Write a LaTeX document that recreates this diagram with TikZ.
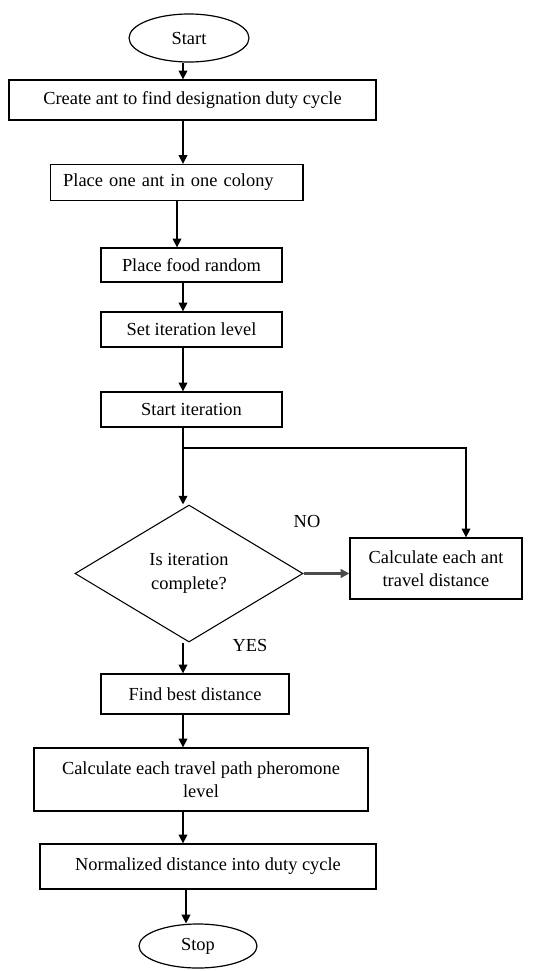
\documentclass[tikz,border=0pt]{standalone}
\usepackage{fontspec}
\setmainfont{Liberation Serif}
\usetikzlibrary{shapes.geometric,arrows.meta}
\newcommand{\pxu}{0.75pt}
\tikzset{
  txt/.style={font=\fontsize{13.8}{17.5}\selectfont},
  box/.style={txt, draw, rectangle, line width=1pt, inner sep=0pt, align=center},
  term/.style={txt, draw, ellipse, line width=0.9pt, inner sep=0pt},
  decide/.style={txt, draw, diamond, line width=0.8pt, inner sep=0pt, align=center},
  arr/.style={-{Triangle[length=6.5pt,width=6.5pt]}, line width=1pt},
}
\begin{document}
\begin{tikzpicture}[x=0.75pt, y=-0.75pt]
    \useasboundingbox (0,0) rectangle (547,971);
    \coordinate (col) at (183,0);
    \node[term, minimum width=120*\pxu, minimum height=48*\pxu] (start) at (189,38) {Start};
    \node[box, minimum width=367*\pxu, minimum height=40*\pxu] (create) at (192.5,100) {Create ant to find designation duty cycle};
    \node[box, minimum height=36*\pxu, text width=170pt, inner xsep=13*\pxu, align=left] (placeant) at (176.5,182.5) {Place one ant in one colony};
    \node[box, minimum width=181*\pxu, minimum height=34*\pxu] (food) at (191.5,265) {Place food random};
    \node[box, minimum width=181*\pxu, minimum height=35*\pxu] (setlevel) at (191.5,329.5) {Set iteration level};
    \node[box, minimum width=181*\pxu, minimum height=35*\pxu] (startit) at (191.5,409.5) {Start iteration};
    \coordinate (split) at (183,448);
    \coordinate (loop) at (466,448);
    \node[decide, minimum width=228*\pxu, minimum height=137*\pxu] (dec) at (189,573.5) {Is iteration\\complete?};
    \node[box, minimum width=172*\pxu, minimum height=61*\pxu] (calc) at (436,568.5) {Calculate each ant\\travel distance};
    \node[txt] (no) at (307,521) {NO};
    \node[txt] (yes) at (250,645) {YES};
    \node[box, minimum width=188*\pxu, minimum height=40*\pxu] (find) at (195,694) {Find best distance};
    \node[box, minimum width=334*\pxu, minimum height=63*\pxu] (phero) at (201,779.5) {Calculate each travel path pheromone\\level};
    \node[box, minimum width=336*\pxu, minimum height=45*\pxu] (norm) at (208,866.5) {Normalized distance into duty cycle};
    \node[term, minimum width=118*\pxu, minimum height=44*\pxu] (stop) at (198,946) {Stop};

    \draw[arr] (start.south -| col) -- (create.north -| col);
    \draw[arr] (create.south -| col) -- (placeant.north -| col);
    \draw[arr] ([xshift=-6*\pxu]placeant.south -| col) -- ([xshift=-6*\pxu]food.north -| col);
    \draw[arr] (food.south -| col) -- (setlevel.north -| col);
    \draw[arr] (setlevel.south -| col) -- (startit.north -| col);
    \draw[line width=1pt] (startit.south -| col) -- (split);
    \draw[arr] (split) -- (dec.north -| col);
    \draw[arr] (split) -- (loop) -- (calc.north -| loop);
    \draw[-{Triangle[length=6.5pt,width=6.5pt]}, line width=1.8pt, black!70] (dec.east) -- (dec.east -| calc.west);
    \draw[arr] (dec.south -| col) -- (find.north -| col);
    \draw[arr] (find.south -| col) -- (phero.north -| col);
    \draw[arr] (phero.south -| col) -- (norm.north -| col);
    \draw[arr] ([xshift=3*\pxu]norm.south -| col) -- ([xshift=3*\pxu]stop.north -| col);
\end{tikzpicture}
\end{document}
